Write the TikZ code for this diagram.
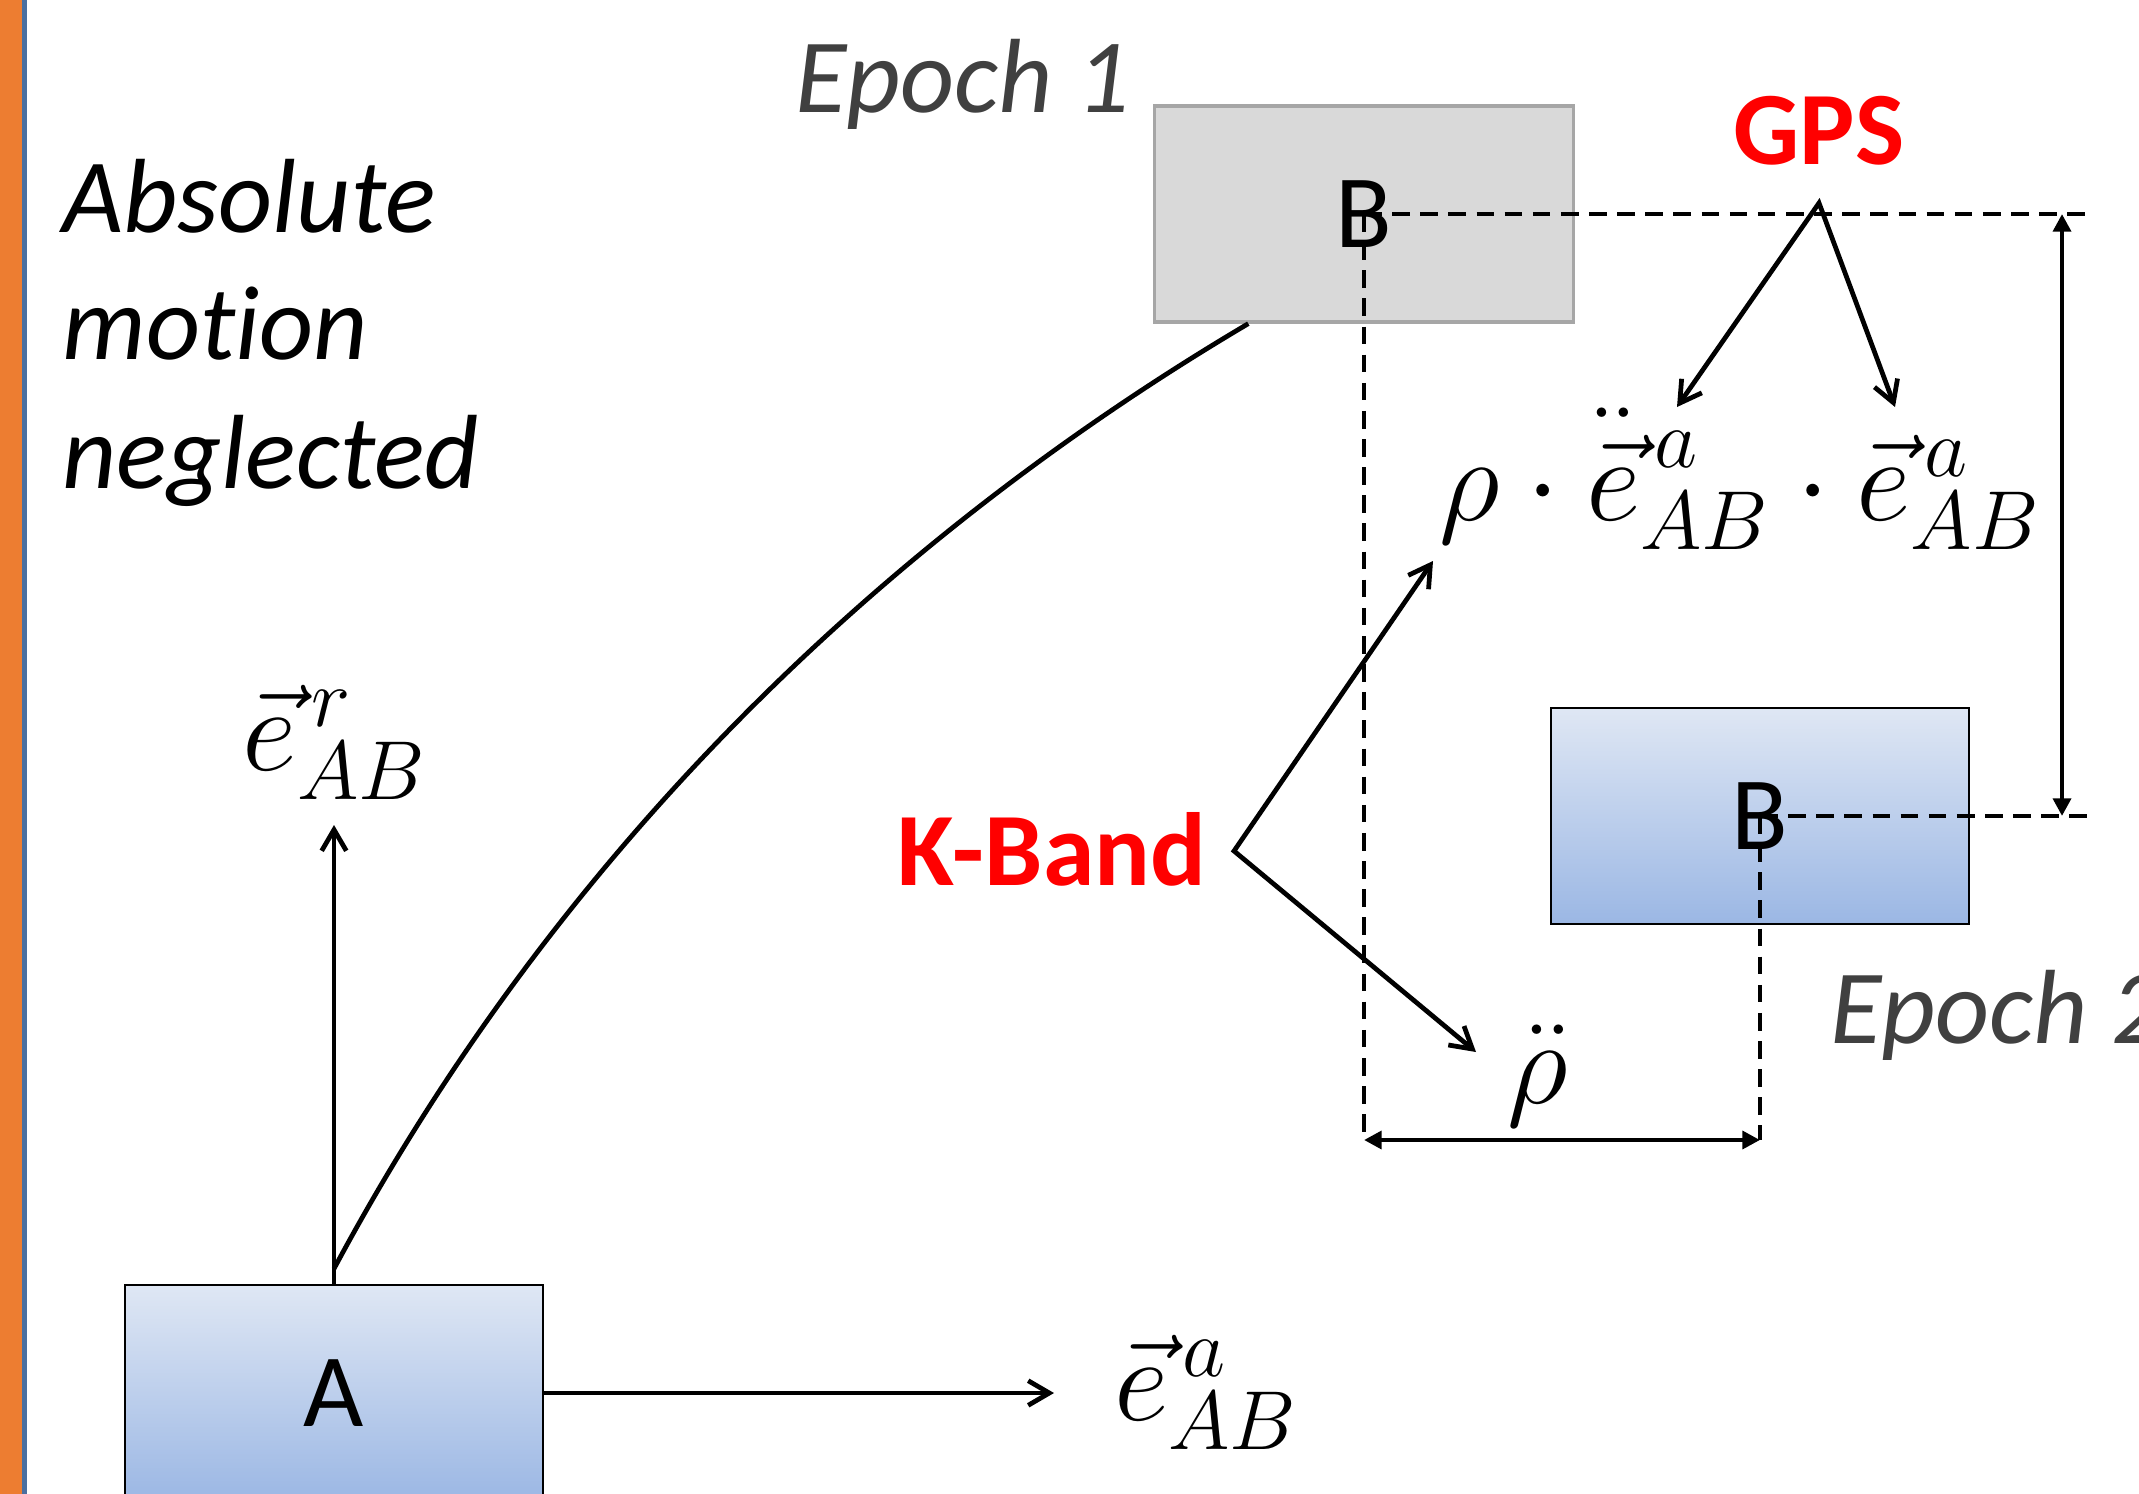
\RequirePackage{fix-cm}
\documentclass[tikz,border=0pt]{standalone}
\usepackage{fontspec}
\newfontfamily\calibri[Ligatures=NoCommon]{Carlito}
\usetikzlibrary{arrows.meta,calc}

\definecolor{barorange}{HTML}{ED7D31}
\definecolor{barblue}{HTML}{4A6FA0}
\definecolor{boxtop}{HTML}{DFE7F4}
\definecolor{boxbot}{HTML}{9BB7E4}
\definecolor{greyfill}{HTML}{D9D9D9}
\definecolor{greyedge}{HTML}{A6A6A6}
\definecolor{epochgrey}{HTML}{404040}
\definecolor{signalred}{HTML}{FF0000}

\newcommand\lblfont{\calibri\fontsize{29.6}{35}\selectfont}
\newcommand\notefont{\calibri\itshape\fontsize{30}{36}\selectfont}
\newcommand\tagfont{\calibri\bfseries\fontsize{29.6}{35}\selectfont}
\newcommand\eqsize{\fontsize{34}{40}\selectfont}
% second derivative of the unit vector, scripts placed as for \vec{e}
\newcommand\eddot{{\vphantom{\vec{e}}\smash{\ddot{\vec{e}}}}}

\begin{document}
\begin{tikzpicture}[x=0.01cm,y=-0.01cm,
  satbox/.style={minimum width=4.18cm,minimum height=2.16cm,inner sep=0pt,font=\lblfont},
  bluebox/.style={satbox,draw=black,line width=0.7pt,top color=boxtop,bottom color=boxbot},
  greybox/.style={satbox,draw=greyedge,line width=0.9pt,fill=greyfill},
  note/.style={inner sep=0pt,font=\notefont},
  epochtext/.style={inner sep=0pt,font=\notefont,text=epochgrey},
  tag/.style={inner sep=0pt,font=\tagfont,text=signalred},
  eq/.style={inner sep=0pt,font=\eqsize},
  barb/.style={line width=1.35pt,line join=miter},
  barbhead/.style={-{Straight Barb[length=6pt,width=7pt]}},
  twobarbs/.style={{Straight Barb[length=6pt,width=7pt]}-{Straight Barb[length=6pt,width=7pt]}},
  guide/.style={line width=1.05pt,dash pattern=on 5pt off 3pt},
  dimline/.style={line width=1.35pt,{Triangle[length=5pt,width=5pt]}-{Triangle[length=5pt,width=5pt]}},
  orbit/.style={line width=1.35pt}]

\useasboundingbox (0,0) rectangle (2139,1494);

% slide edge bars
\fill[barorange] (0,0) rectangle (22,1494);
\fill[barblue] (22,0) rectangle (27,1494);

% side note
\node[note,anchor=base west] (abs1) at (62,233) {Absolute};
\node[note,anchor=base west] (abs2) at (62,360) {mot{\kern0pt}ion};
\node[note,anchor=base west] (abs3) at (62,488) {neglected};

% epoch captions
\node[epochtext,anchor=base west] (ep1) at (795,113) {Epoch 1};
\node[epochtext,anchor=base west] (ep2) at (1830,1043) {Epoch 2};

% satellites
\node[greybox] (B1) at (1364,214) {B};
\node[bluebox] (B2) at (1760,816) {B};
\node[bluebox] (A) at (334,1393) {A};

% measurement labels
\node[tag,anchor=base] (gps) at (1819,165) {GPS};
\node[tag,anchor=base] (kband) at (1052,885) {K-Band};

% vector and range labels
\node[eq,anchor=base] (er) at (335,770) {$\vec{e}^{\,r}_{AB}$};
\node[eq,anchor=base] (ea) at (1206,1420) {$\vec{e}^{\,a}_{AB}$};
\node[eq,anchor=base] (gpseq) at (1740,520) {$\rho\cdot\eddot^{\,a}_{AB}\cdot\vec{e}^{\,a}_{AB}$};
\node[eq,anchor=base] (rhodd) at (1538,1103) {$\ddot{\rho}$};
\node[eq,anchor=base west] (ec) at (2136,1420) {$e$};

% helper points
\coordinate (guideR) at (2092,0);
\coordinate (dimX) at (2062,0);
\coordinate (baseY) at (0,1140);
\coordinate (erTip) at (334,825);
\coordinate (eaTip) at (1054,1393);
\coordinate (gpsfork) at (1819,203);
\coordinate (gpsL) at (1677,407);
\coordinate (gpsR) at (1895,407);
\coordinate (kfork) at (1234,851);
\coordinate (kUp) at (1433,561);
\coordinate (kDown) at (1476,1052);

% guide lines through B at both epochs
\draw[guide] (B1.center) -- (B1.center -| guideR);
\draw[guide] (B2.center) -- (B2.center -| guideR);
\draw[guide] (B1.center) -- (B1.center |- baseY);
\draw[guide] (B2.center) -- (B2.center |- baseY);

% displacement between epochs
\draw[dimline] (B1.center -| dimX) -- (B2.center -| dimX);
\draw[dimline] (B1.center |- baseY) -- (B2.center |- baseY);

% local frame of A
\draw[barb,barbhead] (A.north) -- (erTip);
\draw[barb,barbhead] (A.east) -- (A.east -| eaTip);

% orbit arc from A to B
\draw[orbit] ([yshift=0.15cm]A.north) .. controls (568,832) and (906,526) .. ($(B1.south west)+(95,0)$);

% observation arrows
\draw[barb,twobarbs] (gpsL) -- (gpsfork) -- (gpsR);
\draw[barb,twobarbs] (kUp) -- (kfork) -- (kDown);

\end{tikzpicture}
\end{document}
